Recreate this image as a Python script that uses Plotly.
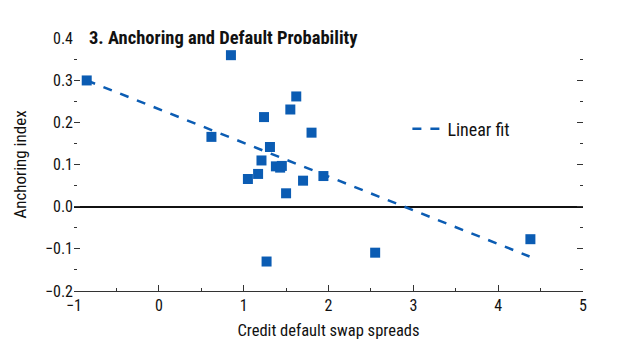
import plotly.graph_objects as go

# Data
cds_spreads = [-0.85, 0.85, 1.62, 1.55, 1.24, 1.80, 0.62, 1.31, 1.21, 1.38, 1.43, 1.45,
               1.17, 1.05, 1.70, 1.94, 1.50, 1.27, 2.55, 4.38]
anchoring = [0.300, 0.360, 0.262, 0.231, 0.213, 0.176, 0.166, 0.142, 0.110, 0.096, 0.093, 0.097,
             0.078, 0.066, 0.062, 0.073, 0.032, -0.130, -0.109, -0.077]

fit_intercept = 0.232
fit_slope = -0.0801
fit_x = [-0.85, 4.37]
fit_y = [fit_intercept + fit_slope * v for v in fit_x]

x_ticks = [-1, 0, 1, 2, 3, 4, 5]
y_ticks = [-0.2, -0.1, 0.0, 0.1, 0.2, 0.3, 0.4]

blue = "#0b5cb3"
font_family = "Liberation Sans Narrow, Roboto Condensed, Liberation Sans, Arial"

fig = go.Figure()
fig.add_trace(go.Scatter(
    x=cds_spreads, y=anchoring, mode="markers",
    marker=dict(symbol="square", size=10, color=blue),
    showlegend=False,
))
fig.add_trace(go.Scatter(
    x=fit_x, y=fit_y, mode="lines", name="Linear fit",
    line=dict(color=blue, width=2.5, dash="dash"),
))

fig.update_layout(
    width=624, height=357,
    margin=dict(l=66, r=49, t=30, b=74, autoexpand=False),
    paper_bgcolor="white", plot_bgcolor="white",
    font=dict(family=font_family, size=15, color="#111"),
    legend=dict(x=0.655, y=0.64, xanchor="left", yanchor="middle",
                bgcolor="rgba(0,0,0,0)", font=dict(size=18)),
    annotations=[dict(
        text="<b>3. Anchoring and Default Probability</b>",
        xref="paper", yref="paper", x=0.0, y=1.0, xshift=13,
        xanchor="left", yanchor="middle", showarrow=False,
        font=dict(size=18.5, color="#111", family=font_family),
    )],
)

fig.update_xaxes(
    range=[-1, 5], tickvals=x_ticks, ticktext=[("\u2212" + str(-v)) if v < 0 else str(v) for v in x_ticks],
    showline=True, linecolor="#333", linewidth=1.3,
    ticks="inside", ticklen=6, tickcolor="#333", tickwidth=1.3,
    minor=dict(ticks="inside", ticklen=3, dtick=0.5, tickcolor="#333", tickwidth=1.3),
    showgrid=False, zeroline=False, mirror=False, automargin=False,
    tickfont=dict(size=16),
    title=dict(text="Credit default swap spreads", font=dict(size=16.5), standoff=10),
)
fig.update_yaxes(
    range=[-0.2, 0.4008], tickvals=y_ticks, tickformat=".1f",
    showline=False, mirror="ticks", automargin=False,
    ticks="inside", ticklen=6, tickcolor="#333", tickwidth=1.3,
    minor=dict(ticks="inside", ticklen=3, dtick=0.05, tickcolor="#333", tickwidth=1.3),
    showgrid=False, zeroline=True, zerolinecolor="#111", zerolinewidth=1.5,
    tickfont=dict(size=16),
    title=dict(text="Anchoring index", font=dict(size=17), standoff=14),
)

fig.write_html("out.html")
